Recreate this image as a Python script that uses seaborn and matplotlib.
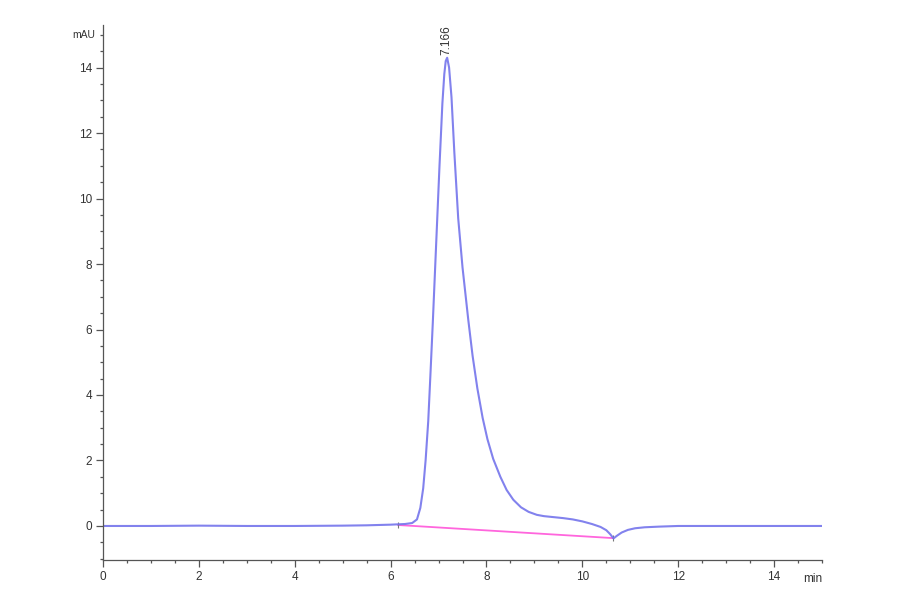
import numpy as np
import pandas as pd
import matplotlib
matplotlib.use("Agg")
import matplotlib.pyplot as plt
import seaborn as sns
from matplotlib.ticker import MultipleLocator

# --- chromatogram trace (min, mAU) ---
time_min = [0, 1, 2, 3, 4, 5, 5.5, 6.0, 6.3, 6.45, 6.55, 6.62, 6.68, 6.73,
            6.785, 6.83, 6.88, 6.95, 7.02, 7.08, 7.12, 7.15, 7.18, 7.22,
            7.27, 7.33, 7.41, 7.50, 7.62, 7.71, 7.81, 7.92, 8.02, 8.14,
            8.29, 8.42, 8.56, 8.72, 8.88, 9.05, 9.2, 9.4, 9.6, 9.8, 10.0,
            10.2, 10.38, 10.5, 10.58, 10.65, 10.72, 10.82, 10.95, 11.1,
            11.3, 11.6, 12, 13, 14, 15]
signal_mau = [0, 0, 0.01, 0, 0, 0.01, 0.02, 0.04, 0.06, 0.09, 0.2, 0.55,
              1.15, 2.0, 3.2, 4.6, 6.2, 8.6, 11.0, 12.9, 13.8, 14.2, 14.3,
              14.0, 13.1, 11.4, 9.4, 7.9, 6.3, 5.2, 4.2, 3.3, 2.65, 2.05,
              1.5, 1.1, 0.8, 0.57, 0.43, 0.34, 0.3, 0.27, 0.24, 0.2, 0.14,
              0.06, -0.03, -0.13, -0.25, -0.38, -0.3, -0.2, -0.12, -0.07,
              -0.04, -0.02, 0, 0, 0, 0]

# integration baseline (start / end of the peak)
baseline_min = [6.15, 10.63]
baseline_mau = [0.03, -0.37]

peak_time = 7.17
peak_height = 14.3
peak_label = "7.166"

trace = pd.DataFrame({"time": time_min, "signal": signal_mau})
base = pd.DataFrame({"time": baseline_min, "signal": baseline_mau})

sns.set_style("ticks")
plt.rcParams["font.family"] = ["Liberation Sans", "DejaVu Sans"]

fig = plt.figure(figsize=(9, 5.94), dpi=100)
ax = fig.add_axes([0.1144, 0.0572, 0.799, 0.9007])

sns.lineplot(data=base, x="time", y="signal", ax=ax, color="#ff66dd",
             linewidth=1.3, marker="|", markersize=5, markeredgecolor="#777777",
             markeredgewidth=0.8)
sns.lineplot(data=trace, x="time", y="signal", ax=ax, color="#7474ec",
             linewidth=1.5, alpha=0.9)

ax.set_xlim(0, 15)
ax.set_ylim(-1.04, 15.3)
ax.xaxis.set_major_locator(MultipleLocator(2))
ax.xaxis.set_minor_locator(MultipleLocator(0.5))
ax.yaxis.set_major_locator(MultipleLocator(2))
ax.yaxis.set_minor_locator(MultipleLocator(0.5))
ax.tick_params(which="major", length=5, width=0.9, color="#555555",
               labelsize=8.5, labelcolor="#333333", pad=3)
ax.tick_params(which="minor", length=2.5, width=0.9, color="#555555")
ax.set_xlabel("")
ax.set_ylabel("")
for side in ["top", "right"]:
    ax.spines[side].set_visible(False)
for side in ["left", "bottom"]:
    ax.spines[side].set_color("#555555")
    ax.spines[side].set_linewidth(0.9)

ax.text(-0.027, 0.99, "mAU", transform=ax.transAxes, fontsize=7.5,
        color="#333333", ha="center", va="top")
ax.text(1.0, -0.025, "min", transform=ax.transAxes, fontsize=8.5,
        color="#333333", ha="right", va="top")
ax.annotate(peak_label, (peak_time, peak_height), xytext=(0, 2),
            textcoords="offset points", rotation=90, ha="center",
            va="bottom", fontsize=8.5, color="#333333")

fig.savefig("out.png", dpi=100)
